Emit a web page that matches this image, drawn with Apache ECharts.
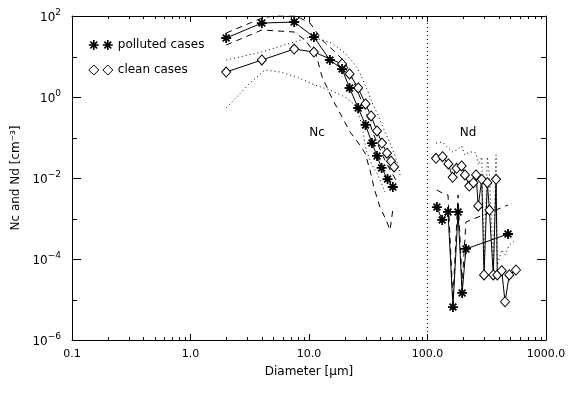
<!DOCTYPE html>
<html><head><meta charset="utf-8">
<script src="https://cdn.jsdelivr.net/npm/echarts@6/dist/echarts.min.js"></script>
<style>html,body{margin:0;padding:0;background:#fff}#c{width:572px;height:394px}</style>
</head><body><div id="c"></div>
<script>
// ---- data ----
const xTickLabels = ['0.1', '1.0', '10.0', '100.0', '1000.0'];
const yTickExponents = [2, 0, -2, -4, -6];

// cloud droplets Nc
const ncPollutedX = [2, 4, 7.5, 11, 15, 19, 22, 26, 30, 34, 37.5, 41, 46, 51];
const ncPolluted  = [28.6, 67, 71, 30.3, 8.2, 4.9, 1.67, 0.535, 0.204, 0.073, 0.035, 0.0177, 0.0094, 0.0060];
const ncCleanX = [2, 4, 7.5, 11, 19, 22, 26, 30, 33.4, 37.5, 41.3, 45.5, 49.2, 52.2];
const ncClean  = [4.14, 8.2, 15.3, 12.9, 6.53, 3.70, 1.67, 0.672, 0.340, 0.145, 0.073, 0.041, 0.026, 0.0187];

const ncPollutedUpperX = [2, 4, 5.7, 7.5, 10.2, 12.9, 16.6, 20.1, 23.1, 26.9, 30.9, 34.7, 39.0, 42.9, 48.3, 54.2];
const ncPollutedUpper  = [38.0, 89, 106, 106, 67, 25.6, 12.9, 7.3, 2.94, 1.0, 0.36, 0.129, 0.058, 0.031, 0.0158, 0.0089];
const ncPollutedLowerX = [2, 4, 7.5, 9.25, 11.5, 12.9, 15.9, 19.0, 22.2, 26.9, 29.7, 32.7, 35.4, 39.7, 44.7, 48.3, 51.2];
const ncPollutedLower  = [19.2, 45.1, 40.3, 25.6, 10.9, 3.12, 0.843, 0.321, 0.137, 0.065, 0.0414, 0.0158, 0.00566, 0.00192, 0.00092, 0.00052, 0.00182];

const ncCleanUpperX = [2, 4, 7.5, 10.2, 12.9, 15.6, 20.1, 25.4, 28.6, 31.5, 34.7, 38.2, 43.8, 48.3, 52.2, 56.4, 58.6];
const ncCleanUpper  = [8.2, 12.9, 22.8, 30.3, 25.6, 21.5, 12.2, 5.5, 2.63, 1.33, 0.634, 0.36, 0.137, 0.073, 0.041, 0.021, 0.0119];
const ncCleanLowerX = [2, 3.18, 4.25, 5.69, 7.92, 11.2, 15.0, 20.1, 24.4, 28.0, 30.3, 34.0, 38.2, 43.8];
const ncCleanLower  = [0.535, 2.22, 4.64, 4.14, 3.12, 1.98, 1.49, 1.0, 0.634, 0.204, 0.049, 0.021, 0.0119, 0.0045];

// drizzle drops Nd
const ndPollutedX = [120, 133, 149, 164, 181, 196, 211, 478];
const ndPolluted  = [0.00192, 0.00092, 0.00145, 6.5e-6, 0.00145, 1.45e-5, 1.77e-4, 4.14e-4];
const ndPollutedUpper = [0.00506, 0.00427, 0.0038, 9.7e-6, 0.0038, 2.28e-5, 8.2e-4, 0.00215];

const ndCleanX = [118, 134, 150, 163, 176, 194, 207, 225, 244, 257, 268, 287, 300, 320, 333, 359, 379, 388, 423, 451, 490, 558];
const ndClean  = [0.0306, 0.0336, 0.0222, 0.0104, 0.0174, 0.0198, 0.0119, 0.00634, 0.00766, 0.0119, 0.00204, 0.00929, 4.03e-5, 0.00766, 0.00162, 4.03e-5, 0.00929, 4.03e-5, 5.14e-5, 8.8e-6, 4.03e-5, 5.35e-5];
const ndCleanUpper = [0.073, 0.0774, 0.055, 0.0439, 0.049, 0.0617, 0.037, 0.0439, 0.0439, 0.041, 0.021, 0.033, 7.1e-5, 0.033, 0.0119, 7.1e-5, 0.037, 7.1e-5, 1.67e-4, 1.26e-4, 2.22e-4, 2.94e-4];

const separatorX = 100;
const labelNc = [11.7, 0.129];
const labelNd = [220, 0.13];

// ---- chart ----
const zip = (xs, ys) => xs.map((x, i) => [x, ys[i]]);
const FONT = 'DejaVu Sans';
const STAR = 'path://M0 5L10 5M5 0L5 10M1.6 1.6L8.4 8.4M1.6 8.4L8.4 1.6';
const STAR2 = 'path://M0 5L10 5M5 0L5 10M1.6 1.6L8.4 8.4M1.6 8.4L8.4 1.6M14 5L24 5M19 0L19 10M15.6 1.6L22.4 8.4M15.6 8.4L22.4 1.6';
const DIAM2 = 'path://M5 0L10 5L5 10L0 5ZM19 0L24 5L19 10L14 5Z';

const starItem = { color: '#000', borderColor: '#000', borderWidth: 1.8 };
const diamItem = { color: '#fff', borderColor: '#000', borderWidth: 1 };

function env(name, data, type) {
  return { name: name, type: 'line', data: data, symbol: 'none', silent: true, z: 2,
    lineStyle: { color: '#000', width: 1, type: type }, animation: false };
}

const chart = echarts.init(document.getElementById('c'), null, { renderer: 'canvas' });
const axisLineStyle = { lineStyle: { color: '#000', width: 1 } };
chart.setOption({
  animation: false,
  backgroundColor: '#fff',
  grid: { left: 72, right: 26, top: 16, bottom: 54, containLabel: false },
  legend: {
    left: 83, top: 34, orient: 'vertical', itemGap: 13, itemWidth: 24, itemHeight: 10,
    textStyle: { fontFamily: FONT, fontSize: 12, color: '#000' },
    data: [
      { name: 'polluted cases', icon: STAR2, itemStyle: { color: '#000', borderColor: '#000', borderWidth: 1.6 } },
      { name: 'clean cases', icon: DIAM2, itemStyle: { color: '#fff', borderColor: '#000', borderWidth: 1 } }
    ]
  },
  xAxis: [
    { type: 'log', logBase: 10, min: 0.1, max: 1000, interval: 1, position: 'bottom',
      axisLine: axisLineStyle, splitLine: { show: false },
      axisTick: { inside: true, length: 6, lineStyle: { color: '#000' } },
      axisLabel: { color: '#000', fontFamily: FONT, fontSize: 11, margin: 9,
        formatter: v => xTickLabels[Math.round(Math.log10(v)) + 1] },
      name: 'Diameter [μm]', nameLocation: 'middle', nameGap: 26,
      nameTextStyle: { color: '#000', fontFamily: FONT, fontSize: 12 } },
    { type: 'log', logBase: 10, min: 0.1, max: 1000, interval: 1, position: 'top',
      axisLine: axisLineStyle, splitLine: { show: false },
      axisTick: { inside: true, length: 6, lineStyle: { color: '#000' } },
      axisLabel: { show: false } }
  ],
  yAxis: [
    { type: 'log', logBase: 10, min: 1e-6, max: 100, interval: 2, position: 'left',
      axisLine: axisLineStyle, splitLine: { show: false },
      axisTick: { inside: true, length: 9, lineStyle: { color: '#000' } },
      axisLabel: { color: '#000', fontFamily: FONT, margin: 11,
        formatter: v => {
          const e = Math.round(Math.log10(v));
          if (yTickExponents.indexOf(e) < 0) return '';
          return '{b|10}{s|' + String(e).replace('-', '−') + '}';
        },
        rich: {
          b: { fontFamily: FONT, fontSize: 12, color: '#000', verticalAlign: 'bottom', lineHeight: 16 },
          s: { fontFamily: FONT, fontSize: 9, color: '#000', verticalAlign: 'top', lineHeight: 16 }
        } },
      name: 'Nc and Nd [cm⁻³]', nameLocation: 'middle', nameGap: 46,
      nameTextStyle: { color: '#000', fontFamily: FONT, fontSize: 12 } },
    { type: 'log', logBase: 10, min: 1e-6, max: 100, interval: 2, position: 'right',
      axisLine: axisLineStyle, splitLine: { show: false },
      axisTick: { inside: true, length: 9, lineStyle: { color: '#000' } },
      axisLabel: { show: false } }
  ],
  series: [
    env('pu', zip(ncPollutedUpperX, ncPollutedUpper), [6, 5]),
    env('pl', zip(ncPollutedLowerX, ncPollutedLower), [6, 5]),
    env('cu', zip(ncCleanUpperX, ncCleanUpper), [1, 3]),
    env('cl', zip(ncCleanLowerX, ncCleanLower), [1, 3]),
    env('npu', zip(ndPollutedX, ndPollutedUpper), [6, 5]),
    env('ncu', zip(ndCleanX, ndCleanUpper), [1, 3]),
    { name: 'clean cases', type: 'line', data: zip(ncCleanX, ncClean), z: 3,
      symbol: 'diamond', symbolSize: [9, 10], showAllSymbol: true,
      lineStyle: { color: '#000', width: 1 }, itemStyle: diamItem,
      markLine: { silent: true, symbol: 'none', label: { show: false },
        lineStyle: { color: '#000', width: 1, type: [1, 3] }, data: [{ xAxis: separatorX }] },
      markPoint: { symbol: 'circle', symbolSize: 0, silent: true,
        label: { show: true, position: 'inside', color: '#000', fontFamily: FONT, fontSize: 12, formatter: p => p.name },
        data: [{ name: 'Nc', coord: labelNc }, { name: 'Nd', coord: labelNd }] } },
    { name: 'clean cases', type: 'line', data: zip(ndCleanX, ndClean), z: 3,
      symbol: 'diamond', symbolSize: [9, 10], showAllSymbol: true,
      lineStyle: { color: '#000', width: 1 }, itemStyle: diamItem },
    { name: 'polluted cases', type: 'line', data: zip(ncPollutedX, ncPolluted), z: 4,
      symbol: STAR, symbolSize: 10, showAllSymbol: true,
      lineStyle: { color: '#000', width: 1 }, itemStyle: starItem },
    { name: 'polluted cases', type: 'line', data: zip(ndPollutedX, ndPolluted), z: 4,
      symbol: STAR, symbolSize: 10, showAllSymbol: true,
      lineStyle: { color: '#000', width: 1 }, itemStyle: starItem }
  ]
});

// minor ticks (log sub-decades on x, odd decades on y)
const g = [];
const X = v => chart.convertToPixel({ xAxisIndex: 0 }, v);
const Y = v => chart.convertToPixel({ yAxisIndex: 0 }, v);
const xL = X(0.1), xR = X(1000), yB = Y(1e-6), yT = Y(100);
const ln = (x1, y1, x2, y2) => ({ type: 'line', silent: true, z: 10,
  shape: { x1: x1, y1: y1, x2: x2, y2: y2 }, style: { stroke: '#000', lineWidth: 1 } });
for (let d = -1; d <= 2; d++) {
  for (let k = 2; k <= 9; k++) {
    const px = Math.round(X(k * Math.pow(10, d))) + 0.5;
    g.push(ln(px, yB, px, yB - 3));
    g.push(ln(px, yT, px, yT + 3));
  }
}
for (const e of [-5, -3, -1, 1]) {
  const py = Math.round(Y(Math.pow(10, e))) + 0.5;
  g.push(ln(xL, py, xL + 5, py));
  g.push(ln(xR, py, xR - 5, py));
}
chart.setOption({ graphic: g });
</script>
</body></html>
